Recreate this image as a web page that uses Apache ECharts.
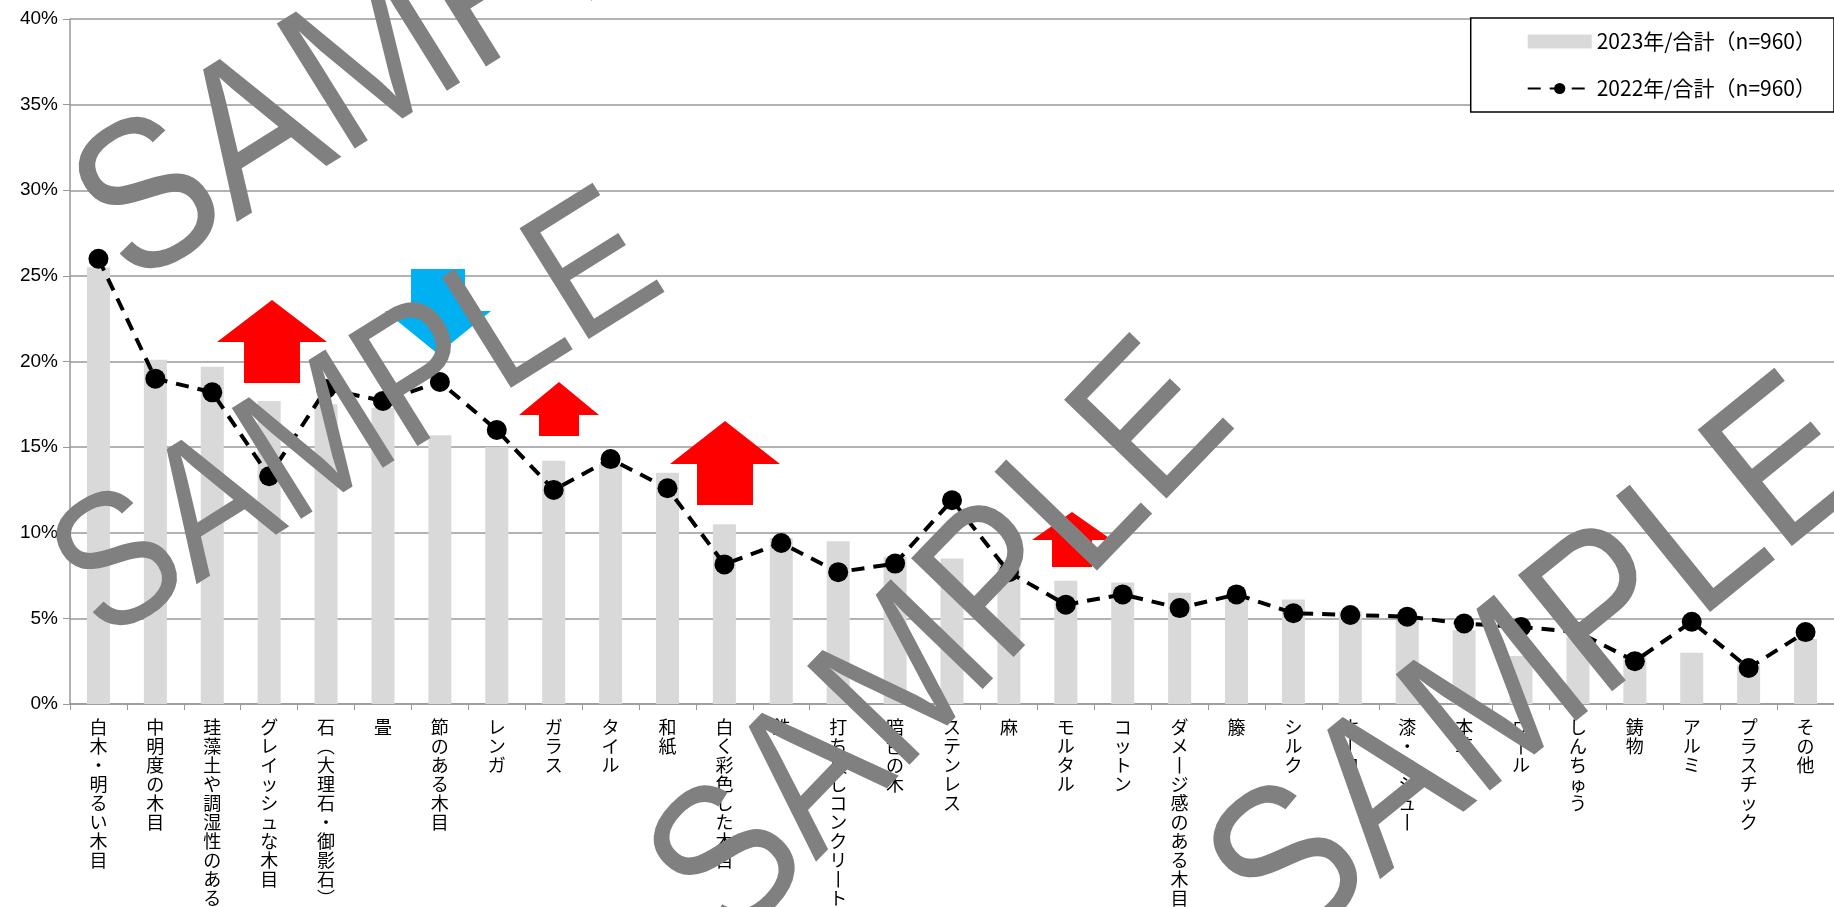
<!DOCTYPE html>
<html lang="ja">
  <head>
    <meta charset="utf-8" />
    <title>素材の好み</title>
    <script src="https://cdn.jsdelivr.net/npm/echarts@6/dist/echarts.min.js"></script>
    <style>
      html, body { margin: 0; padding: 0; background: #fff; }
      #main { width: 1834px; height: 907px; }
    </style>
  </head>
  <body>
    <div id="main"></div>
    <script>
      // カテゴリ
      var categories = [
        "白木・明るい木目", "中明度の木目", "珪藻土や調湿性のある壁材", "グレイッシュな木目",
        "石（大理石・御影石）", "畳", "節のある木目", "レンガ", "ガラス", "タイル", "和紙",
        "白く彩色した木目", "鉄", "打ち放しコンクリート", "暗色の木", "ステンレス", "麻",
        "モルタル", "コットン", "ダメージ感のある木目", "籐", "シルク", "ホーロー",
        "漆・カシュー", "本革", "ウール", "しんちゅう", "鋳物", "アルミ", "プラスチック", "その他"
      ];
      // 2023年（棒）
      var values2023 = [
        25.5, 20.1, 19.7, 17.7, 17.5, 17.3, 15.7, 15.0, 14.2, 14.0, 13.5,
        10.5, 9.7, 9.5, 8.6, 8.5, 8.4, 7.2, 7.1, 6.5, 6.2,
        6.1, 5.4, 4.9, 4.3, 2.8, 3.9, 2.9, 3.0, 2.3, 3.8
      ];
      // 2022年（折れ線）
      var values2022 = [
        26.0, 19.0, 18.2, 13.3, 18.4, 17.7, 18.8, 16.0, 12.5, 14.3, 12.6,
        8.15, 9.4, 7.7, 8.2, 11.9, 7.7, 5.8, 6.4, 5.6, 6.4,
        5.3, 5.2, 5.1, 4.7, 4.5, 4.2, 2.5, 4.8, 2.1, 4.2
      ];
      var yTicks = [0, 5, 10, 15, 20, 25, 30, 35, 40];
      var seriesNames = ["2023年/合計（n=960）", "2022年/合計（n=960）"];

      // 縦書き用の文字置き換え
      function toVertical(s) {
        var chars = s.split("").map(function (c) {
          if (c === "ー") return "丨";
          if (c === "（") return "︵";
          if (c === "）") return "︶";
          return c;
        });
        return "{v|" + chars.join("}\n{v|") + "}";
      }

      function upArrow(cx, tipY, headY, bottomY, headHalf, shaftHalf, color) {
        return {
          type: "polygon", z: 50,
          shape: { points: [
            [cx, tipY], [cx + headHalf, headY], [cx + shaftHalf, headY],
            [cx + shaftHalf, bottomY], [cx - shaftHalf, bottomY],
            [cx - shaftHalf, headY], [cx - headHalf, headY]
          ] },
          style: { fill: color }
        };
      }
      function downArrow(cx, topY, headY, tipY, headHalf, shaftHalf, color) {
        return {
          type: "polygon", z: 50,
          shape: { points: [
            [cx - shaftHalf, topY], [cx + shaftHalf, topY], [cx + shaftHalf, headY],
            [cx + headHalf, headY], [cx, tipY], [cx - headHalf, headY],
            [cx - shaftHalf, headY]
          ] },
          style: { fill: color }
        };
      }
      // 透かし文字 SAMPLE
      function watermark(x, y, deg, size) {
        return {
          type: "text", z: 100, x: x, y: y,
          rotation: deg * Math.PI / 180,
          scaleY: 1.15,
          style: {
            text: "SAMPLE", fill: "#808080",
            font: size + "px 'Liberation Sans', Arial, sans-serif",
            textAlign: "center", textVerticalAlign: "middle"
          }
        };
      }

      var chart = echarts.init(document.getElementById("main"));
      var option = {
        animation: false,
        backgroundColor: "#fff",
        grid: {
          left: 70, right: 0, top: 19, bottom: 203,
          containLabel: false, outerBoundsMode: "none"
        },
        legend: {
          orient: "vertical", right: 0, top: 18,
          padding: [13, 18, 13, 56],
          itemGap: 26,
          itemWidth: 64, itemHeight: 14,
          borderColor: "#000", borderWidth: 1.5,
          backgroundColor: "#fff",
          textStyle: { fontSize: 21, color: "#000", fontFamily: "'Noto Sans CJK JP', sans-serif" },
          data: [
            { name: seriesNames[0], icon: "rect" },
            { name: seriesNames[1] }
          ]
        },
        xAxis: {
          type: "category",
          data: categories,
          axisLine: { lineStyle: { color: "#999", width: 1.5 } },
          axisTick: { show: true, length: 6, lineStyle: { color: "#999" } },
          axisLabel: {
            interval: 0, margin: 14,
            color: "#000",
            formatter: toVertical,
            rich: {
              v: {
                fontSize: 18, lineHeight: 19, height: 19, color: "#000",
                fontFamily: "'Noto Sans CJK JP', sans-serif"
              }
            }
          }
        },
        yAxis: {
          type: "value",
          min: 0, max: 40, interval: 5,
          axisLine: { show: true, lineStyle: { color: "#999", width: 1.5 } },
          axisTick: { show: true, length: 7, lineStyle: { color: "#999" } },
          splitLine: { lineStyle: { color: "#999", width: 1.5 } },
          axisLabel: {
            margin: 12, color: "#000", fontSize: 19,
            fontFamily: "'Liberation Sans Narrow', 'Liberation Sans', sans-serif",
            formatter: function (v) { return v + "%"; }
          }
        },
        series: [
          {
            name: seriesNames[0], type: "bar",
            data: values2023, barWidth: 23,
            itemStyle: { color: "#D9D9D9" }
          },
          {
            name: seriesNames[1], type: "line",
            data: values2022,
            symbol: "circle", symbolSize: 20,
            itemStyle: { color: "#000" },
            lineStyle: { color: "#000", width: 4, type: [13, 9] },
            z: 5
          }
        ],
        graphic: [
          upArrow(272, 300, 342, 383, 55, 28, "#FF0000"),
          downArrow(438, 269, 311, 354, 53, 27, "#00B0F0"),
          upArrow(559, 382, 415, 436, 40, 20, "#FF0000"),
          upArrow(725, 421, 464, 505, 55, 28, "#FF0000"),
          upArrow(1072, 512, 540, 567, 40, 20, "#FF0000"),
          watermark(420, 38, 32, 186),
          watermark(359, 421, 32, 165),
          watermark(945, 646, 46, 180),
          watermark(1542, 671, 39, 189)
        ]
      };
      chart.setOption(option);
    </script>
  </body>
</html>
